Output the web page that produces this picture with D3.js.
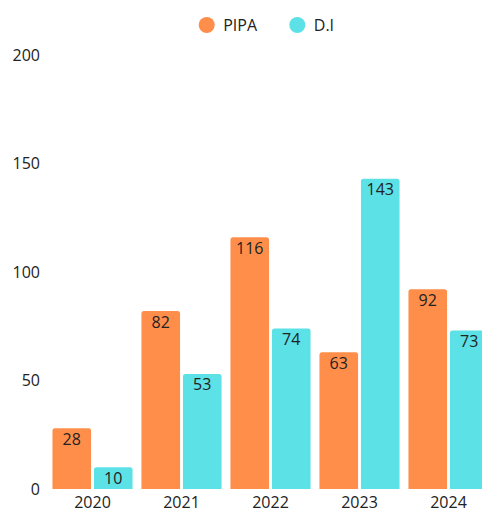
<!DOCTYPE html>
<html>
<head>
<meta charset="utf-8">
<script src="https://cdn.jsdelivr.net/npm/d3@7"></script>
<style>
  body { margin: 0; background: #fff; }
  svg { display: block; font-family: "Open Sans", "Noto Sans", sans-serif; }
</style>
</head>
<body>
<div id="chart"></div>
<script>
// Data
const years = ["2020", "2021", "2022", "2023", "2024"];
const seriesNames = ["PIPA", "D.I"];
const pipa = [28, 82, 116, 63, 92];
const di = [10, 53, 74, 143, 73];
const yTicks = [0, 50, 100, 150, 200];
const colors = ["#FF8E4B", "#5CE1E6"];

const W = 482, H = 509;
const svg = d3.select("#chart").append("svg")
    .attr("width", W)
    .attr("height", H);

// scales (plot runs a bit past the right edge, like the original)
const x0 = d3.scaleBand().domain(years).range([48, 493])
    .paddingInner(0.1).paddingOuter(0.05);
const x1 = d3.scaleBand().domain(seriesNames).range([0, x0.bandwidth()])
    .paddingInner(0.07);
const y = d3.scaleLinear().domain([0, 200]).range([489, 55]);

// y axis labels only
const yAxis = svg.append("g")
    .attr("transform", "translate(40,0)")
    .call(d3.axisLeft(y).tickValues(yTicks).tickSize(0).tickPadding(0));
yAxis.select(".domain").remove();
yAxis.selectAll("text")
    .attr("font-family", "Open Sans")
    .attr("font-size", 16)
    .attr("fill", "#222");

// x axis labels
const xAxis = svg.append("g")
    .attr("transform", "translate(0,489)")
    .call(d3.axisBottom(x0).tickSize(0).tickPadding(0));
xAxis.select(".domain").remove();
xAxis.selectAll("text")
    .attr("font-family", "Open Sans")
    .attr("font-size", 16)
    .attr("fill", "#222")
    .attr("dy", "1.18em");

const rows = years.map((yr, i) => ({
    year: yr,
    vals: [{ k: "PIPA", v: pipa[i], c: colors[0] }, { k: "D.I", v: di[i], c: colors[1] }]
}));

// bar shape with rounded top corners
function barPath(x, yTop, w, yBase, r) {
    return `M${x},${yBase}V${yTop + r}Q${x},${yTop} ${x + r},${yTop}H${x + w - r}Q${x + w},${yTop} ${x + w},${yTop + r}V${yBase}Z`;
}

const groups = svg.selectAll(".grp")
    .data(rows)
    .enter().append("g")
    .attr("class", "grp")
    .attr("transform", d => "translate(" + x0(d.year) + ",0)");

groups.selectAll("path")
    .data(d => d.vals)
    .enter().append("path")
    .attr("d", d => barPath(x1(d.k), y(d.v), x1.bandwidth(), y(0), 2.5))
    .attr("fill", d => d.c);

groups.selectAll(".lbl")
    .data(d => d.vals)
    .enter().append("text")
    .attr("class", "lbl")
    .attr("x", d => x1(d.k) + x1.bandwidth() / 2)
    .attr("y", d => y(d.v) + 16.5)
    .attr("text-anchor", "middle")
    .attr("font-size", 16)
    .attr("fill", "#222")
    .text(d => d.v);

// legend
const legend = svg.append("g");
const legendX = [206.7, 297.3];
seriesNames.forEach((name, i) => {
    legend.append("circle")
        .attr("cx", legendX[i])
        .attr("cy", 25)
        .attr("r", 8)
        .attr("fill", colors[i]);
    legend.append("text")
        .attr("x", legendX[i] + 16.5)
        .attr("y", 31)
        .attr("font-size", 16)
        .attr("fill", "#222")
        .text(name);
});
</script>
</body>
</html>
